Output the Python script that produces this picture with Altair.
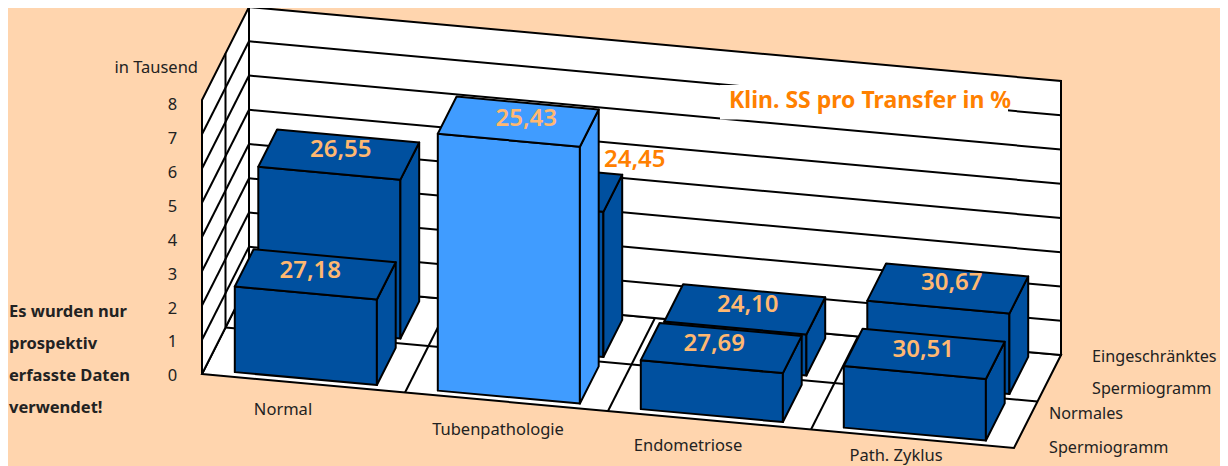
import altair as alt
import pandas as pd

# ---- data ----
categories = ["Normal", "Tubenpathologie", "Endometriose", "Path. Zyklus"]
heights_front = [2.5, 7.5, 1.43, 1.8]
heights_back = [4.64, 4.24, 1.2, 2.35]
labels_front = ["27,18", "25,43", "27,69", "30,51"]
labels_back = ["26,55", "24,45", "24,10", "30,67"]
y_ticks = list(range(0, 9))
note_lines = ["Es wurden nur", "prospektiv", "erfasste Daten", "verwendet!"]
y_title = "in Tausend"
overlay_title = "Klin. SS pro Transfer in %"

# ---- style ----
BG = "#FFD5AE"
DARK = "#00509F"
LIGHT = "#409CFF"
LABEL = "#FFB871"
ORANGE = "#FF8000"
TEXT = "#222222"
FONT = "Noto Sans"
TEXT_DY = 1


# ---- oblique 3D model: category c (0-4), depth d (0-2), height h (0-8) ----
def P(c, d, h):
    return [202 + 203 * c + 23.5 * d, 374 + 18.5 * c - 46.5 * d - 34.25 * h]


def poly(pts, fill, stroke="#000000"):
    ring = pts + [pts[0]]
    return {"type": "Feature",
            "geometry": {"type": "Polygon", "coordinates": [ring]},
            "properties": {"fill": fill, "stroke": stroke}}


def seg(a, b):
    return {"type": "Feature",
            "geometry": {"type": "LineString", "coordinates": [a, b]},
            "properties": {}}


def box(c, row, h, fill):
    c0, c1 = c + 0.15, c + 0.85
    d0, d1 = row + 0.1, row + 0.9
    return [
        poly([P(c0, d0, 0), P(c1, d0, 0), P(c1, d0, h), P(c0, d0, h)], fill),
        poly([P(c1, d0, 0), P(c1, d1, 0), P(c1, d1, h), P(c1, d0, h)], fill),
        poly([P(c0, d0, h), P(c1, d0, h), P(c1, d1, h), P(c0, d1, h)], fill),
    ]


walls = [
    poly([P(0, 0, 0), P(4, 0, 0), P(4, 2, 0), P(0, 2, 0)], "#FFFFFF"),
    poly([P(0, 0, 0), P(0, 2, 0), P(0, 2, 8), P(0, 0, 8)], "#FFFFFF"),
    poly([P(0, 2, 0), P(4, 2, 0), P(4, 2, 8), P(0, 2, 8)], "#FFFFFF"),
]
grid = []
for t in y_ticks[1:-1]:
    grid.append(seg(P(0, 0, t), P(0, 2, t)))
    grid.append(seg(P(0, 2, t), P(4, 2, t)))
grid.append(seg(P(0, 1, 0), P(0, 1, 8)))
grid.append(seg(P(0, 1, 0), P(4, 1, 0)))
for c in (1, 2, 3):
    grid.append(seg(P(c, 0, 0), P(c, 2, 0)))

mask = [poly([[720, 85], [1008, 85], [1008, 119.5], [720, 119.5]], "#FFFFFF", "#FFFFFF")]

bars = []
for i, h in enumerate(heights_back):
    bars += box(i, 1, h, DARK)
for i, h in enumerate(heights_front):
    bars += box(i, 0, h, LIGHT if categories[i] == "Tubenpathologie" else DARK)

PROJ = alt.Projection(type="identity", scale=1, translate=[-8, -8]).to_dict()


def shapes(features, **mark):
    return alt.Chart(alt.Data(values=features)).mark_geoshape(**mark).project(**PROJ)


wall_layer = shapes(walls, strokeWidth=2).encode(
    fill=alt.Fill("properties.fill:N", scale=None),
    stroke=alt.Stroke("properties.stroke:N", scale=None))
grid_layer = shapes(grid, filled=False, stroke="#000000", strokeWidth=2).encode(
    opacity=alt.value(1))
mask_layer = shapes(mask, stroke=None).encode(
    fill=alt.Fill("properties.fill:N", scale=None))
bar_layer = shapes(bars, strokeWidth=2, strokeJoin="round").encode(
    fill=alt.Fill("properties.fill:N", scale=None),
    stroke=alt.Stroke("properties.stroke:N", scale=None))

# ---- text placement (pixel nudges, separate from the values) ----
front_nudge = [(-5, -4), (8, -3.6), (-7, -5), (-1, -5)]
back_nudge = [(2, -5.6), (93, -28), (3, -5), (4, -6.5)]

rows = []


def add(lon, lat, text, group):
    rows.append({"lon": lon, "lat": lat + TEXT_DY, "text": text, "group": group})


for i, lab in enumerate(labels_front):
    x, y = P(i + 0.5, 0.5, heights_front[i])
    add(x + front_nudge[i][0], y + front_nudge[i][1], lab, "value")
for i, lab in enumerate(labels_back):
    x, y = P(i + 0.5, 1.5, heights_back[i])
    group = "outside" if categories[i] == "Tubenpathologie" else "value"
    add(x + back_nudge[i][0], y + back_nudge[i][1], lab, group)

tick_y = [375, 341, 308, 274, 240, 206, 172, 138, 104]
for t, y in zip(y_ticks, tick_y):
    add(172.5, y, str(t), "tick")
for (x, y), cat in zip([(283, 409), (498, 429), (688, 445), (896, 454.5)], categories):
    add(x, y, cat, "cat")

text_df = pd.DataFrame(rows)


def text_layer(group, **mark):
    return alt.Chart(text_df[text_df.group == group]).mark_text(
        baseline="middle", **mark
    ).encode(longitude="lon:Q", latitude="lat:Q", text="text:N").project(**PROJ)


def free_text(items, **mark):
    df = pd.DataFrame(items, columns=["lon", "lat", "text"])
    df["lat"] = df["lat"] + TEXT_DY
    return alt.Chart(df).mark_text(baseline="middle", **mark).encode(
        longitude="lon:Q", latitude="lat:Q", text="text:N").project(**PROJ)


layers = [
    wall_layer, grid_layer, mask_layer, bar_layer,
    text_layer("value", font=FONT, fontSize=24, fontWeight=600, color=LABEL, align="center"),
    text_layer("outside", font=FONT, fontSize=24, fontWeight=600, color=ORANGE, align="center"),
    text_layer("tick", font=FONT, fontSize=16.5, color=TEXT, align="center"),
    text_layer("cat", font=FONT, fontSize=16.5, color=TEXT, align="center"),
    free_text([(198, 67, y_title)], font=FONT, fontSize=16.5, color=TEXT, align="right"),
    free_text([(9, y, s) for y, s in zip([311, 343, 375, 407], note_lines)],
              font=FONT, fontSize=16.5, fontWeight="bold", color=TEXT, align="left"),
    free_text([(729, 100, overlay_title)], font=FONT, fontSize=23, fontWeight="bold",
              color=ORANGE, align="left"),
    free_text([(1092, 356, "Eingeschränktes"), (1092, 388, "Spermiogramm"),
               (1049, 413, "Normales"), (1049, 447, "Spermiogramm")],
              font=FONT, fontSize=16.2, color=TEXT, align="left"),
]

chart = alt.layer(*layers).properties(
    width=1212, height=458, padding=0, background=BG,
).configure_view(stroke=None)

chart.save("out.html", embed_options={"renderer": "svg", "actions": False})
